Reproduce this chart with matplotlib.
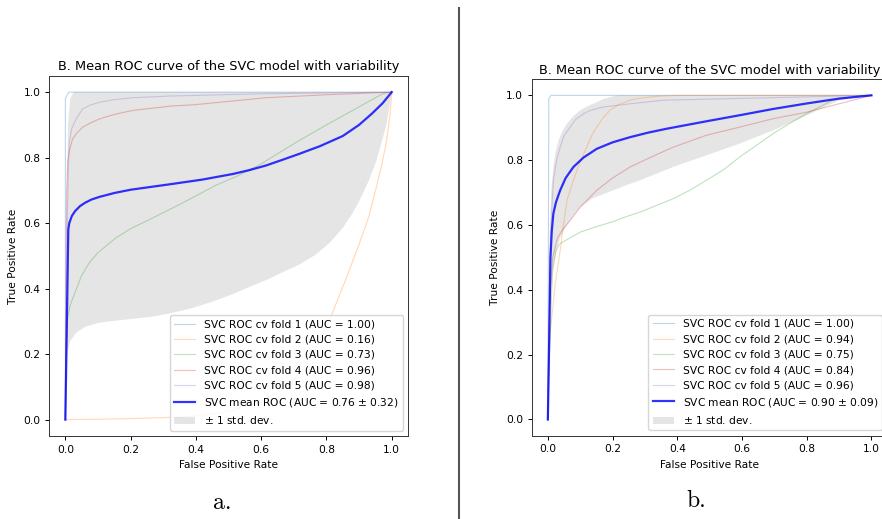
import numpy as np
import matplotlib
matplotlib.use("Agg")
import matplotlib.pyplot as plt

# ---- panel a: ROC curves per fold (fpr, tpr) ----
a_fold1_x = [0, 0, 0.01, 1]
a_fold1_y = [0, 0.98, 1.0, 1]
a_fold2_x = [0, 0.1, 0.2, 0.3, 0.4, 0.5, 0.6, 0.68, 0.74, 0.78, 0.82, 0.86, 0.9, 0.93, 0.953, 0.97, 0.984, 0.995, 1]
a_fold2_y = [0, 0.001, 0.003, 0.006, 0.011, 0.025, 0.055, 0.1, 0.17, 0.24, 0.33, 0.43, 0.535, 0.62, 0.71, 0.78, 0.85, 0.93, 1]
a_fold3_x = [0, 0.003, 0.006, 0.015, 0.033, 0.05, 0.074, 0.1, 0.155, 0.2, 0.258, 0.36, 0.462, 0.53,
             0.595, 0.66, 0.718, 0.8, 0.871, 0.93, 0.972, 1]
a_fold3_y = [0, 0.2, 0.305, 0.35, 0.397, 0.44, 0.48, 0.51, 0.555, 0.583, 0.611, 0.662, 0.716, 0.745,
             0.778, 0.818, 0.853, 0.9, 0.939, 0.972, 0.995, 1]
a_fold4_x = [0, 0.002, 0.004, 0.007, 0.012, 0.022, 0.035, 0.053, 0.075, 0.104, 0.15, 0.206, 0.319, 0.4, 0.615, 0.8, 1]
a_fold4_y = [0, 0.5, 0.7, 0.786, 0.82, 0.857, 0.875, 0.893, 0.905, 0.918, 0.932, 0.944, 0.957, 0.962, 0.983, 0.992, 1]
a_fold5_x = [0, 0.003, 0.006, 0.009, 0.012, 0.02, 0.033, 0.053, 0.075, 0.104, 0.15, 0.206, 0.319, 0.6, 1]
a_fold5_y = [0, 0.4, 0.6, 0.75, 0.847, 0.89, 0.918, 0.949, 0.96, 0.969, 0.977, 0.983, 0.988, 0.995, 1]
a_mean_x = [0, 0.009, 0.012, 0.02, 0.03, 0.045, 0.06, 0.08, 0.104, 0.15, 0.2, 0.258, 0.33, 0.42, 0.513,
            0.564, 0.615, 0.67, 0.718, 0.78, 0.85, 0.9, 0.94, 0.972, 1]
a_mean_y = [0, 0.58, 0.6, 0.622, 0.637, 0.652, 0.662, 0.672, 0.68, 0.692, 0.702, 0.71, 0.72, 0.733, 0.75,
            0.762, 0.776, 0.795, 0.812, 0.835, 0.866, 0.9, 0.935, 0.966, 1]
a_upper_x = [0, 0.003, 0.008, 0.015, 0.025, 1]
a_upper_y = [0, 0.6, 0.9, 0.98, 1.0, 1]
a_lower_x = [0, 0.006, 0.015, 0.033, 0.06, 0.104, 0.18, 0.258, 0.309, 0.38, 0.45, 0.51, 0.564, 0.62, 0.666,
             0.72, 0.769, 0.81, 0.85, 0.88, 0.902, 0.93, 0.953, 0.97, 0.984, 1]
a_lower_y = [0, 0.204, 0.24, 0.265, 0.283, 0.296, 0.305, 0.313, 0.322, 0.338, 0.36, 0.382, 0.405, 0.428, 0.45,
             0.475, 0.505, 0.54, 0.585, 0.63, 0.67, 0.73, 0.79, 0.85, 0.9, 1]
a_auc = ["1.00", "0.16", "0.73", "0.96", "0.98"]
a_mean_auc = "0.76 $\\pm$ 0.32"

# ---- panel b ----
b_fold1_x = [0, 0.003, 0.01, 1]
b_fold1_y = [0, 0.99, 1.0, 1]
b_fold2_x = [0, 0.003, 0.007, 0.023, 0.038, 0.048, 0.06, 0.079, 0.1, 0.12, 0.135, 0.151, 0.17, 0.192,
             0.22, 0.254, 0.29, 0.336, 0.4, 1]
b_fold2_y = [0, 0.15, 0.265, 0.42, 0.52, 0.6, 0.68, 0.738, 0.795, 0.84, 0.875, 0.902, 0.93, 0.954,
             0.972, 0.985, 0.992, 0.997, 1.0, 1]
b_fold3_x = [0, 0.005, 0.012, 0.015, 0.025, 0.035, 0.05, 0.1, 0.15, 0.2, 0.24, 0.285, 0.335, 0.387, 0.44,
             0.49, 0.545, 0.593, 0.645, 0.696, 0.75, 0.8, 0.88, 0.95, 1]
b_fold3_y = [0, 0.2, 0.4, 0.46, 0.52, 0.54, 0.55, 0.578, 0.595, 0.61, 0.625, 0.64, 0.66, 0.681, 0.708,
             0.738, 0.772, 0.81, 0.846, 0.882, 0.915, 0.944, 0.985, 0.997, 1]
b_fold4_x = [0, 0.005, 0.015, 0.03, 0.045, 0.069, 0.1, 0.151, 0.2, 0.254, 0.32, 0.387, 0.49, 0.593, 0.696,
             0.8, 0.9, 1]
b_fold4_y = [0, 0.35, 0.5, 0.56, 0.585, 0.614, 0.655, 0.707, 0.745, 0.779, 0.81, 0.84, 0.877, 0.902, 0.928,
             0.948, 0.974, 1]
b_fold5_x = [0, 0.005, 0.01, 0.017, 0.027, 0.038, 0.05, 0.069, 0.085, 0.11, 0.13, 0.171, 0.254, 0.356, 0.7, 1]
b_fold5_y = [0, 0.4, 0.6, 0.738, 0.8, 0.84, 0.875, 0.902, 0.925, 0.943, 0.953, 0.964, 0.974, 0.985, 0.993, 1]
b_mean_x = [0, 0.005, 0.008, 0.012, 0.017, 0.025, 0.038, 0.055, 0.079, 0.11, 0.151, 0.2, 0.254, 0.31,
            0.367, 0.49, 0.6, 0.696, 0.8, 0.9, 1]
b_mean_y = [0, 0.3, 0.5, 0.58, 0.635, 0.67, 0.707, 0.745, 0.779, 0.808, 0.835, 0.855, 0.871, 0.885,
            0.897, 0.92, 0.94, 0.958, 0.975, 0.99, 1]
b_upper_x = [0, 0.004, 0.01, 0.017, 0.024, 0.033, 0.045, 0.059, 0.08, 0.1, 0.125, 0.151, 0.175, 0.202, 0.22, 1]
b_upper_y = [0, 0.5, 0.7, 0.779, 0.825, 0.861, 0.89, 0.913, 0.937, 0.954, 0.968, 0.979, 0.99, 0.997, 1.0, 1]
b_lower_x = [0, 0.005, 0.012, 0.028, 0.04, 0.059, 0.08, 0.1, 0.14, 0.202, 0.24, 0.285, 0.387, 0.49, 0.593,
             0.696, 0.8, 0.9, 1]
b_lower_y = [0, 0.3, 0.45, 0.53, 0.565, 0.6, 0.63, 0.655, 0.683, 0.707, 0.722, 0.738, 0.779, 0.815, 0.851,
             0.892, 0.938, 0.985, 1]
b_auc = ["1.00", "0.94", "0.75", "0.84", "0.96"]
b_mean_auc = "0.90 $\\pm$ 0.09"

title = "B. Mean ROC curve of the SVC model with variability"
fs = 7.7


def draw_panel(ax, folds, aucs, mean_x, mean_y, mean_auc, up_x, up_y, lo_x, lo_y):
    for i, (fx, fy) in enumerate(folds):
        ax.plot(fx, fy, color="C%d" % i, lw=0.8, alpha=0.3,
                label="SVC ROC cv fold %d (AUC = %s)" % (i + 1, aucs[i]))
    ax.plot(mean_x, mean_y, color="b", lw=1.6, alpha=0.8,
            label="SVC mean ROC (AUC = %s)" % mean_auc)
    px = np.concatenate([up_x, lo_x[::-1]])
    py = np.concatenate([up_y, lo_y[::-1]])
    ax.fill(px, py, color="grey", alpha=0.2, lw=0, label="$\\pm$ 1 std. dev.")
    ax.set_xlim(-0.05, 1.05)
    ax.set_ylim(-0.05, 1.05)
    ax.set_xlabel("False Positive Rate", fontsize=fs)
    ax.set_ylabel("True Positive Rate", fontsize=fs)
    ax.set_title(title, fontsize=9.3, pad=4)
    ax.tick_params(labelsize=fs, width=0.7, length=2.7)
    for s in ax.spines.values():
        s.set_linewidth(0.7)
        s.set_color("#333333")
    ax.legend(loc="lower right", fontsize=fs)


fig = plt.figure(figsize=(8.82, 5.19), dpi=100)
ax1 = fig.add_axes([0.0556, 0.160, 0.407, 0.694])
ax2 = fig.add_axes([0.6028, 0.1605, 0.4036, 0.687])

draw_panel(ax1, [(a_fold1_x, a_fold1_y), (a_fold2_x, a_fold2_y), (a_fold3_x, a_fold3_y),
                 (a_fold4_x, a_fold4_y), (a_fold5_x, a_fold5_y)],
           a_auc, a_mean_x, a_mean_y, a_mean_auc,
           np.array(a_upper_x), np.array(a_upper_y), np.array(a_lower_x), np.array(a_lower_y))
draw_panel(ax2, [(b_fold1_x, b_fold1_y), (b_fold2_x, b_fold2_y), (b_fold3_x, b_fold3_y),
                 (b_fold4_x, b_fold4_y), (b_fold5_x, b_fold5_y)],
           b_auc, b_mean_x, b_mean_y, b_mean_auc,
           np.array(b_upper_x), np.array(b_upper_y), np.array(b_lower_x), np.array(b_lower_y))

# divider and panel letters
fig.add_artist(plt.Line2D([459 / 882, 459 / 882], [0, 1 - 8 / 519], color="#555555", lw=1.5))
fig.text(222 / 882, 1 - 503 / 519, "a.", fontsize=17, family="cmr10", ha="center", va="center")
fig.text(696 / 882, 1 - 501 / 519, "b.", fontsize=17, family="cmr10", ha="center", va="center")

fig.savefig("out.png", dpi=100)
